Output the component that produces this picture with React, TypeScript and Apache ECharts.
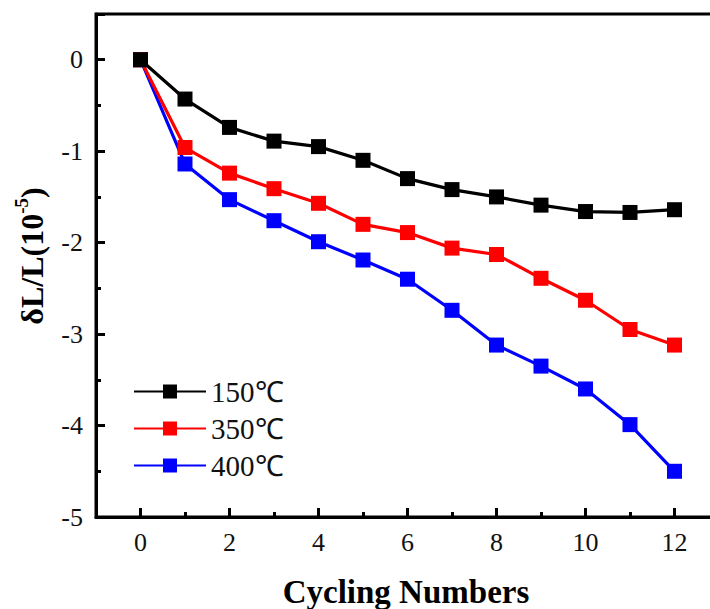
import React, { useEffect, useRef } from "react";
import * as echarts from "echarts";

const cycles = [0, 1, 2, 3, 4, 5, 6, 7, 8, 9, 10, 11, 12];
const seriesNames = ["150℃", "350℃", "400℃"];
const values150 = [0, -0.43, -0.74, -0.89, -0.95, -1.1, -1.3, -1.42, -1.5, -1.59, -1.66, -1.67, -1.64];
const values350 = [0, -0.96, -1.24, -1.41, -1.57, -1.8, -1.89, -2.06, -2.13, -2.39, -2.63, -2.95, -3.12];
const values400 = [0, -1.14, -1.53, -1.76, -1.99, -2.19, -2.4, -2.74, -3.12, -3.35, -3.6, -3.99, -4.5];
const colors = ["#000000", "#ff0000", "#0000ff"];
const xTitle = "Cycling Numbers";

const FONT = "'Liberation Serif', 'Times New Roman', serif";

export default function App() {
  const ref = useRef<HTMLDivElement>(null);
  useEffect(() => {
    if (!ref.current) return;
    const chart = echarts.init(ref.current, null, { renderer: "svg" });
    const all = [values150, values350, values400];
    const series = all.map((vals, i) => ({
      name: seriesNames[i],
      type: "line",
      xAxisIndex: 0,
      yAxisIndex: 0,
      data: cycles.map((c, j) => [c, vals[j]]),
      symbol: "rect",
      symbolSize: 15,
      z: 10 - i,
      lineStyle: { color: colors[i], width: 3.2 },
      itemStyle: { color: colors[i] },
    }));
    chart.setOption({
      animation: false,
      backgroundColor: "#ffffff",
      grid: {
        left: 96,
        top: 14,
        width: 623,
        height: 503,
        outerBoundsMode: "none",
        containLabel: false,
        show: true,
        borderColor: "#000",
        borderWidth: 3,
        backgroundColor: "transparent",
      },
      legend: {
        left: 128,
        top: 372,
        orient: "vertical",
        itemWidth: 72,
        itemHeight: 17.5,
        itemGap: 8,
        textStyle: { fontFamily: FONT, fontSize: 29, color: "#111" },
        data: seriesNames,
      },
      xAxis: [
        {
          type: "value",
          min: -1,
          max: 13,
          splitNumber: 7,
          minInterval: 2,
          maxInterval: 2,
          axisLine: { show: true, onZero: false, lineStyle: { color: "#000", width: 3 } },
          axisTick: { show: true, inside: true, length: 9, lineStyle: { color: "#000", width: 3 } },
          axisLabel: {
            fontFamily: FONT,
            fontSize: 26,
            color: "#111",
            margin: 12,
            formatter: (v: number) => (v >= 0 && v <= 12 && v % 2 === 0 ? String(v) : ""),
          },
          splitLine: { show: false },
        },
        {
          type: "value",
          position: "bottom",
          min: -1,
          max: 13,
          interval: 1,
          axisLine: { show: false, onZero: false },
          axisTick: { show: true, inside: true, length: 5, lineStyle: { color: "#000", width: 3 } },
          axisLabel: { show: false },
          splitLine: { show: false },
        },
      ],
      yAxis: [
        {
          type: "value",
          min: -5,
          max: 0.5,
          interval: 1,
          position: "left",
          axisLine: { show: true, onZero: false, lineStyle: { color: "#000", width: 3 } },
          axisTick: { show: true, inside: true, length: 9, lineStyle: { color: "#000", width: 3 } },
          axisLabel: {
            fontFamily: FONT,
            fontSize: 26,
            color: "#111",
            margin: 13,
            formatter: (v: number) => (Number.isInteger(v) ? String(v) : ""),
          },
          splitLine: { show: false },
        },
        {
          type: "value",
          min: -5,
          max: 0.5,
          interval: 0.5,
          position: "left",
          offset: 0,
          axisLine: { show: false, onZero: false },
          axisTick: { show: true, inside: true, length: 5, lineStyle: { color: "#000", width: 3 } },
          axisLabel: { show: false },
          splitLine: { show: false },
        },
      ],
      graphic: [
        {
          type: "text",
          x: 406,
          y: 592,
          style: {
            text: xTitle,
            fontFamily: FONT,
            fontSize: 33,
            fontWeight: "bold",
            fill: "#000",
            textAlign: "center",
            textVerticalAlign: "middle",
          },
        },
        {
          type: "text",
          x: 30,
          y: 256,
          rotation: Math.PI / 2,
          style: {
            text: "{a|δL/L(10}{b|-5}{a|)}",
            fontFamily: FONT,
            fontSize: 32,
            fontWeight: "bold",
            fill: "#000",
            textAlign: "center",
            textVerticalAlign: "middle",
            rich: {
              a: { fontFamily: FONT, fontSize: 32, fontWeight: "bold", fill: "#000", verticalAlign: "bottom", lineHeight: 36 },
              b: { fontFamily: FONT, fontSize: 19, fontWeight: "bold", fill: "#000", verticalAlign: "top", lineHeight: 36 },
            },
          },
        },
      ],
      series,
    });
    return () => chart.dispose();
  }, []);
  return <div ref={ref} style={{ position: "fixed", left: 0, top: 0, width: 710, height: 609 }} />;
}
